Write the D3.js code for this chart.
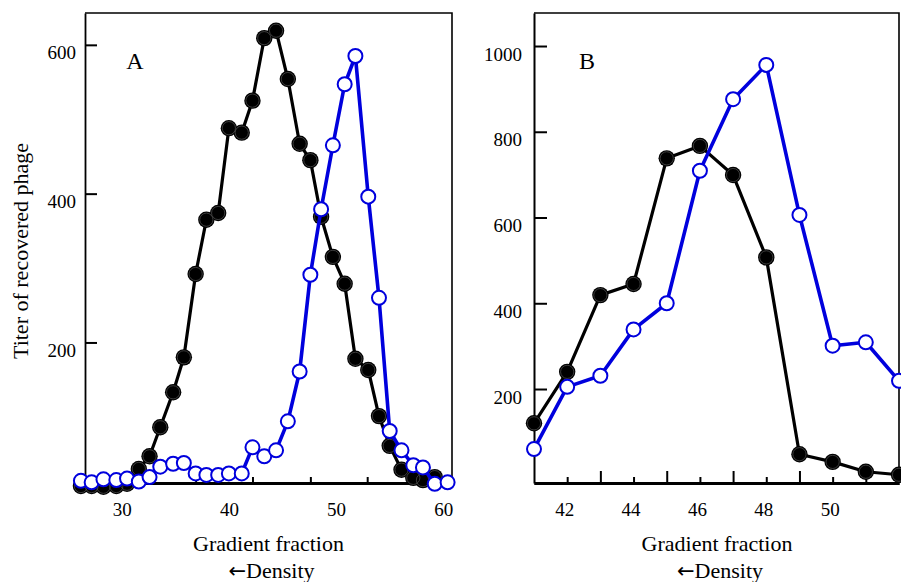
<!DOCTYPE html>
<html>
<head>
<meta charset="utf-8">
<script src="https://cdnjs.cloudflare.com/ajax/libs/d3/7.8.5/d3.min.js"></script>
<style>
    body { margin: 0; background: #fff; }
    svg text { font-family: "Liberation Serif", "Times New Roman", serif; fill: #000; }
</style>
</head>
<body>
<div id="chart"></div>
<script>
// ----------------------- data

// panel A (fractions as they sit against the printed axis)
var fracA = [26.2, 27.2, 28.3, 29.5, 30.5, 31.6, 32.6, 33.6, 34.8, 35.8, 36.9,
    37.9, 39.0, 40.0, 41.2, 42.2, 43.3, 44.4, 45.5, 46.6, 47.6, 48.6, 49.7,
    50.8, 51.8, 53.0, 54.0, 55.0, 56.1, 57.2, 58.1, 59.2, 60.4];
var blackA = [7, 7, 6, 7, 10, 30, 47, 86, 133, 180, 292, 365, 374, 488, 482,
    525, 609, 619, 554, 467, 445, 369, 315, 279, 178, 163, 101, 61, 29, 18, 15, 19];
var openA = [14, 12, 16, 15, 17, 13, 19, 33, 37, 38, 24, 22, 22, 24, 24, 59,
    47, 55, 94, 161, 291, 379, 465, 547, 585, 396, 260, 81, 55, 35, 32, 10, 12];
var yTicksA = [200, 400, 600];
var xTicksA = [30, 40, 50, 60];
var minorTicksA = [36.9, 42.2, 47.6, 52.9];

// panel B
var fracB = [41, 42, 43, 44, 45, 46, 47, 48, 49, 50, 51, 52];
var blackB = [120, 240, 419, 445, 738, 767, 699, 507, 48, 30, 7, 0];
var openB = [60, 205, 231, 339, 400, 709, 876, 956, 606, 301, 309, 219];
var yTicksB = [200, 400, 600, 800, 1000];
var xTicksB = [42, 44, 46, 48, 50];
var oddTicksB = [43, 45, 47, 49, 51];

var BLUE = "#0000dd";

var svg = d3.select("#chart").append("svg")
    .attr("width", 901)
    .attr("height", 582);

function drawPoints(g, x, y, xs, ys, filled) {
    var pts = ys.map(function(v, i) { return [xs[i], v]; });
    var line = d3.line()
        .x(function(d) { return x(d[0]); })
        .y(function(d) { return y(d[1]); });

    g.append("path")
        .datum(pts)
        .attr("d", line)
        .attr("fill", "none")
        .attr("stroke", filled ? "#000" : BLUE)
        .attr("stroke-width", filled ? 3.2 : 3.6)
        .attr("stroke-linejoin", "round");

    var dots = g.selectAll(null)
        .data(pts)
        .enter();

    if (filled) {
        dots.append("circle")
            .attr("cx", function(d) { return x(d[0]); })
            .attr("cy", function(d) { return y(d[1]); })
            .attr("r", 8.2)
            .attr("fill", "#000");
        // faint grey ring the scanned dots have
        dots.append("circle")
            .attr("cx", function(d) { return x(d[0]); })
            .attr("cy", function(d) { return y(d[1]); })
            .attr("r", 6.6)
            .attr("fill", "none")
            .attr("stroke", "#555")
            .attr("stroke-width", 0.7);
    } else {
        dots.append("circle")
            .attr("cx", function(d) { return x(d[0]); })
            .attr("cy", function(d) { return y(d[1]); })
            .attr("r", 7)
            .attr("fill", "#fff")
            .attr("stroke", BLUE)
            .attr("stroke-width", 2);
    }
}

function drawFrame(g, x, y) {
    var x0 = x.range()[0], x1 = x.range()[1];
    var yb = y.range()[0], yt = y.range()[1];
    // top + right border
    g.append("path")
        .attr("d", "M" + x0 + "," + yt + "H" + x1 + "V" + yb)
        .attr("fill", "none")
        .attr("stroke", "#000")
        .attr("stroke-width", 1.6);
}

function styleAxis(sel, w) {
    sel.select(".domain").attr("stroke-width", w);
    sel.selectAll(".tick line").attr("stroke-width", 2);
    sel.selectAll("text").style("font-size", "19px")
        .style("font-family", "'Liberation Serif', serif");
}

function addXTitle(g, cx) {
    g.append("text")
        .attr("x", cx).attr("y", 551)
        .attr("text-anchor", "middle")
        .style("font-size", "22px")
        .text("Gradient fraction");

    var t = g.append("text")
        .attr("x", cx + 3).attr("y", 577.5)
        .attr("text-anchor", "middle")
        .style("font-size", "22px");
    t.append("tspan")
        .style("font-family", "'DejaVu Sans', sans-serif")
        .style("font-size", "21px")
        .text("\u2190");
    t.append("tspan").text("Density");
}

// ----------------------- panel A
var xA = d3.scaleLinear().domain([26.58, 60.81]).range([85, 452]);
var yA = d3.scaleLinear().domain([11.1, 642.8]).range([483, 13]);
var gA = svg.append("g");

drawFrame(gA, xA, yA);

gA.append("g")
    .attr("transform", "translate(85,0)")
    .call(d3.axisLeft(yA).tickValues(yTicksA).tickFormat(d3.format("d"))
        .tickSizeInner(-12).tickSizeOuter(0).tickPadding(9))
    .call(styleAxis, 1.8)
    .selectAll("text").attr("dy", "0.32em").attr("y", 8);

gA.append("g")
    .attr("transform", "translate(0,483)")
    .call(d3.axisBottom(xA).tickValues(minorTicksA).tickSizeInner(-6).tickSizeOuter(0).tickFormat(""))
    .call(styleAxis, 3);

gA.append("g")
    .attr("transform", "translate(0,483)")
    .call(d3.axisBottom(xA).tickValues(xTicksA).tickSize(0).tickPadding(20))
    .call(styleAxis, 0)
    .select(".domain").remove();

drawPoints(gA, xA, yA, fracA, blackA, true);
drawPoints(gA, xA, yA, fracA, openA, false);

gA.append("text")
    .attr("x", 135).attr("y", 69)
    .attr("text-anchor", "middle")
    .style("font-size", "24px")
    .text("A");

addXTitle(gA, 268.5);

svg.append("text")
    .attr("transform", "translate(28,251) rotate(-90)")
    .attr("text-anchor", "middle")
    .style("font-size", "22px")
    .text("Titer of recovered phage");

// ----------------------- panel B
var xB = d3.scaleLinear().domain([41, 52]).range([534, 899]);
var yB = d3.scaleLinear().domain([-19.2, 1077]).range([483, 13]);
var gB = svg.append("g");

drawFrame(gB, xB, yB);

gB.append("g")
    .attr("transform", "translate(534,0)")
    .call(d3.axisLeft(yB).tickValues(yTicksB).tickFormat(d3.format("d"))
        .tickSizeInner(-13).tickSizeOuter(0).tickPadding(12))
    .call(styleAxis, 2)
    .selectAll("text").attr("dy", "0.32em").attr("y", 8);

gB.append("g")
    .attr("transform", "translate(0,483)")
    .call(d3.axisBottom(xB).tickValues(oddTicksB).tickSizeInner(-12).tickSizeOuter(0).tickFormat(""))
    .call(styleAxis, 3);

gB.append("g")
    .attr("transform", "translate(0,483)")
    .call(d3.axisBottom(xB).tickValues(xTicksB).tickSizeInner(-6).tickSizeOuter(0).tickPadding(20))
    .call(styleAxis, 3)
    .selectAll("text").attr("x", -3);

drawPoints(gB, xB, yB, fracB, blackB, true);
drawPoints(gB, xB, yB, fracB, openB, false);

gB.append("text")
    .attr("x", 587).attr("y", 69)
    .attr("text-anchor", "middle")
    .style("font-size", "24px")
    .text("B");

addXTitle(gB, 717);
</script>
</body>
</html>
